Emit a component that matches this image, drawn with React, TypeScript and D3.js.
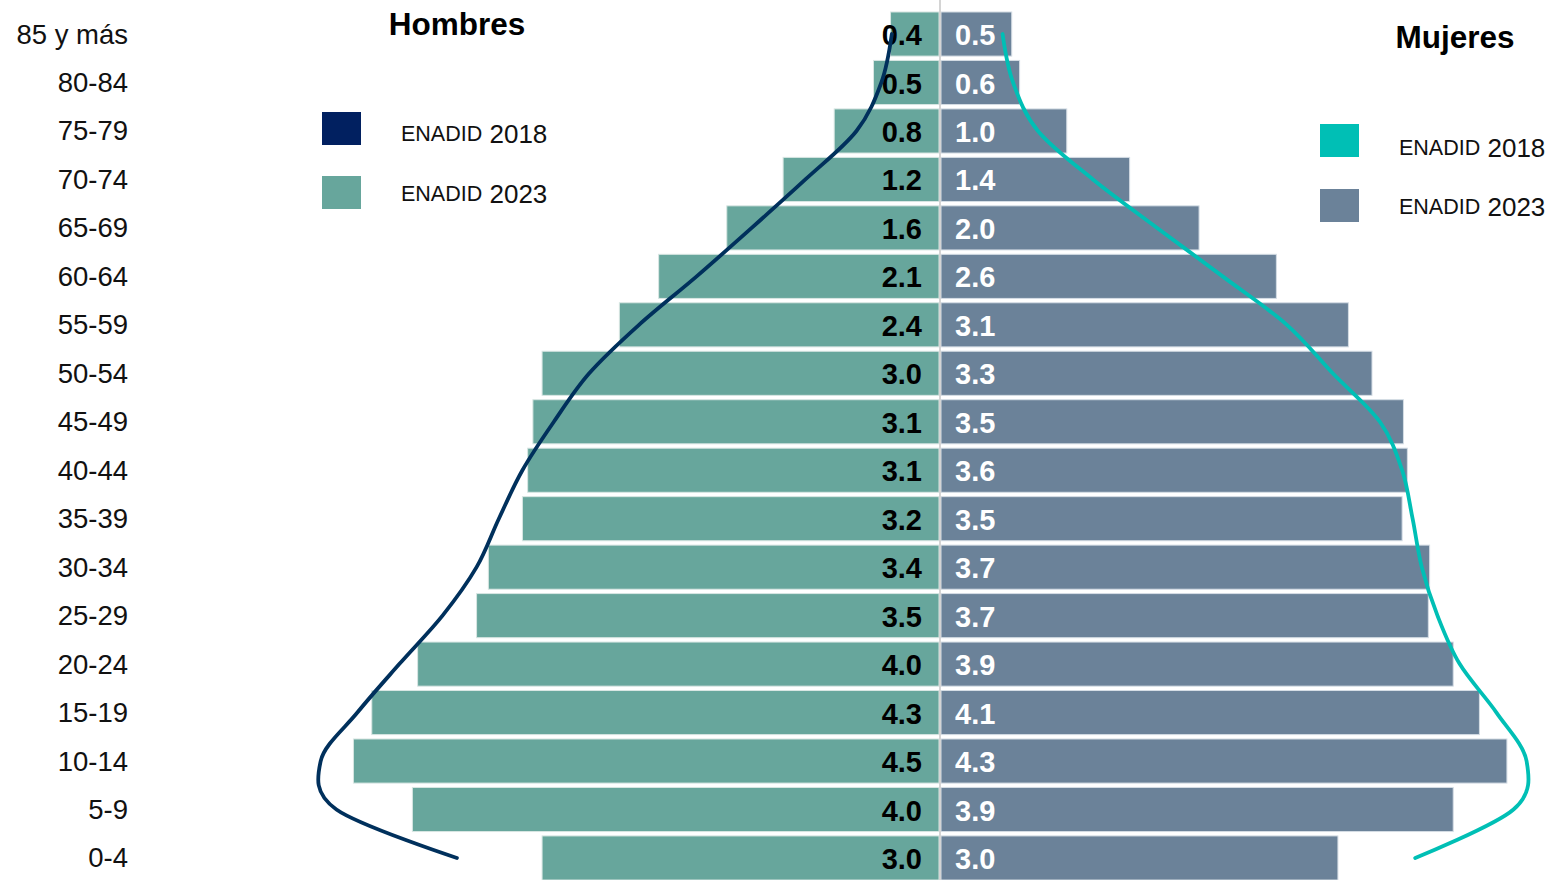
import React from "react";
import * as d3 from "d3";

const ageGroups = [
  "85 y más", "80-84", "75-79", "70-74", "65-69", "60-64", "55-59", "50-54", "45-49",
  "40-44", "35-39", "30-34", "25-29", "20-24", "15-19", "10-14", "5-9", "0-4",
];
const men2023 = [0.37, 0.5, 0.8, 1.19, 1.62, 2.14, 2.44, 3.03, 3.1, 3.14, 3.18, 3.44, 3.53, 3.98, 4.33, 4.47, 4.02, 3.03];
const women2023 = [0.54, 0.6, 0.96, 1.44, 1.97, 2.56, 3.11, 3.29, 3.53, 3.56, 3.52, 3.73, 3.72, 3.91, 4.11, 4.32, 3.91, 3.03];
const men2018 = [0.36, 0.44, 0.63, 1.02, 1.43, 1.85, 2.29, 2.67, 2.94, 3.18, 3.36, 3.53, 3.79, 4.12, 4.44, 4.72, 4.6, 3.68];
const women2018 = [0.47, 0.55, 0.74, 1.16, 1.65, 2.15, 2.64, 2.99, 3.35, 3.52, 3.6, 3.67, 3.79, 3.96, 4.24, 4.47, 4.37, 3.62];

const W = 1549;
const H = 880;
const FONT = "'Liberation Sans', Arial, sans-serif";
const C_MEN23 = "#67a69c";
const C_WOM23 = "#6b8299";
const C_MEN18 = "#00305c";
const C_MEN18_LEG = "#012060";
const C_WOM18 = "#00bfb5";

export default function App() {
  const y = d3.scaleBand<string>().domain(ageGroups).range([9.8, 882.2]).paddingInner(0.09).paddingOuter(0.045);
  const xm = d3.scaleLinear().domain([0, 5]).range([939, 939 - 655]);
  const xw = d3.scaleLinear().domain([0, 5]).range([941, 941 + 655]);
  const bw = y.bandwidth();
  const cy = (g: string) => (y(g) as number) + bw / 2;

  const menLine = d3
    .line<number>()
    .x((d) => xm(d))
    .y((_, i) => cy(ageGroups[i]))
    .curve(d3.curveCatmullRom.alpha(0))(men2018) as string;
  const womenLine = d3
    .line<number>()
    .x((d) => xw(d))
    .y((_, i) => cy(ageGroups[i]))
    .curve(d3.curveCatmullRom.alpha(0))(women2018) as string;

  const legendItem = (x: number, ySq: number, yTxt: number, color: string, year: string) => (
    <g>
      <rect x={x} y={ySq} width={39} height={33} fill={color} />
      <text x={x + 79} y={yTxt} dominantBaseline="central" fontFamily={FONT} fill="#111">
        <tspan fontSize={21.5}>ENADID</tspan>
        <tspan fontSize={26}> {year}</tspan>
      </text>
    </g>
  );

  return (
    <svg width={W} height={H} style={{ position: "absolute", left: 0, top: 0, display: "block", background: "#fff" }}>
      {ageGroups.map((g, i) => (
        <g key={g}>
          <rect x={xm(men2023[i])} y={y(g)} width={939 - xm(men2023[i])} height={bw} fill={C_MEN23} stroke="#d8e6e3" strokeWidth={1} />
          <rect x={941} y={y(g)} width={xw(women2023[i]) - 941} height={bw} fill={C_WOM23} stroke="#d5dde5" strokeWidth={1} />
        </g>
      ))}
      <line x1={940} x2={940} y1={0} y2={H} stroke="#d4d4d4" strokeWidth={2} />
      {ageGroups.map((g, i) => (
        <g key={"l" + g}>
          <text x={922} y={cy(g) + 1} textAnchor="end" dominantBaseline="central" fontFamily={FONT} fontWeight="bold" fontSize={29} fill="#000">
            {men2023[i].toFixed(1)}
          </text>
          <text x={955} y={cy(g) + 1} textAnchor="start" dominantBaseline="central" fontFamily={FONT} fontWeight="bold" fontSize={29} fill="#fff">
            {women2023[i].toFixed(1)}
          </text>
        </g>
      ))}
      <path d={menLine} fill="none" stroke={C_MEN18} strokeWidth={3.8} strokeLinecap="round" />
      <path d={womenLine} fill="none" stroke={C_WOM18} strokeWidth={3.8} strokeLinecap="round" />
      {ageGroups.map((g) => (
        <text key={"a" + g} x={128} y={cy(g)} textAnchor="end" dominantBaseline="central" fontFamily={FONT} fontSize={27.5} fill="#111">
          {g}
        </text>
      ))}
      <text x={457} y={24} textAnchor="middle" dominantBaseline="central" fontFamily={FONT} fontWeight="bold" fontSize={31.5} fill="#000">
        Hombres
      </text>
      <text x={1455} y={37} textAnchor="middle" dominantBaseline="central" fontFamily={FONT} fontWeight="bold" fontSize={31.5} fill="#000">
        Mujeres
      </text>
      {legendItem(322, 112, 134, C_MEN18_LEG, "2018")}
      {legendItem(322, 176, 194, C_MEN23, "2023")}
      {legendItem(1320, 124, 148, C_WOM18, "2018")}
      {legendItem(1320, 189, 207, C_WOM23, "2023")}
    </svg>
  );
}
